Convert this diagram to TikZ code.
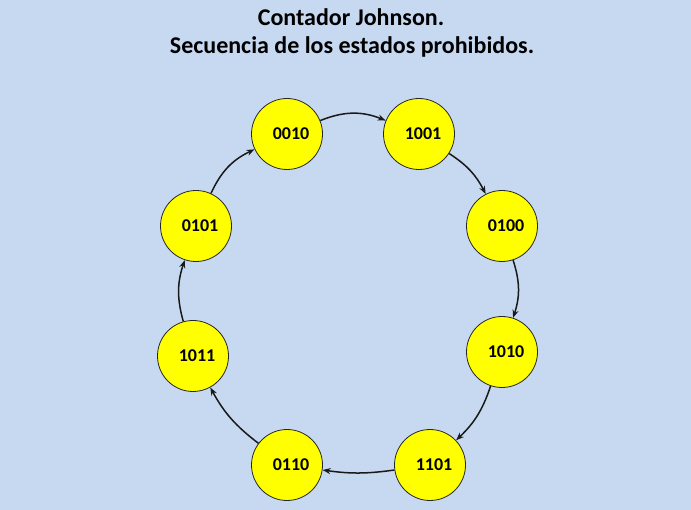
\documentclass[tikz,border=0pt]{standalone}
\usepackage{fontspec}
\setmainfont{Carlito}
\usetikzlibrary{arrows.meta}
\definecolor{bgblue}{RGB}{198,217,241}
\definecolor{stateyellow}{RGB}{255,255,0}
\tikzset{
  state/.style={circle,draw=black!85,line width=0.8pt,fill=stateyellow,
    minimum size=71pt,inner sep=0pt,font=\fontsize{18}{21}\selectfont\bfseries},
  flow/.style={line width=1.5pt,draw=black!90,-{Stealth[length=8pt,width=6pt]}},
  titletext/.style={anchor=base,inner sep=0pt,font=\fontsize{24}{29}\selectfont\bfseries}
}
\newcommand{\stl}[1]{\hspace*{8pt}\raisebox{-1.5pt}{#1}}
\begin{document}
\begin{tikzpicture}[x=1pt,y=-1pt]
  \fill[bgblue] (0,0) rectangle (691,510);
  \useasboundingbox (0,0) rectangle (691,510);
  \node[titletext] (t1) at (351,26) {Contador Johnson.};
  \node[titletext] (t2) at (352,54) {Secuencia de los estados prohibidos.};
  \node[state] (s0010) at (287,134) {\stl{0010}};
  \node[state] (s1001) at (419,134) {\stl{1001}};
  \node[state] (s0100) at (502,226) {\stl{0100}};
  \node[state] (s1010) at (502,352) {\stl{1010}};
  \node[state] (s1101) at (430,465) {\stl{1101}};
  \node[state] (s0110) at (287,465) {\stl{0110}};
  \node[state] (s1011) at (193,356) {\stl{1011}};
  \node[state] (s0101) at (196,226) {\stl{0101}};
  \draw[flow] (s0010) to[bend left=22] (s1001);
  \draw[flow] (s1001) to[bend left=15] (s0100);
  \draw[flow] (s0100) to[bend left=18] (s1010);
  \draw[flow] (s1010) to[bend left=14] (s1101);
  \draw[flow] (s1101) to[bend left=8] (s0110);
  \draw[flow] (s0110) to[bend left=12] (s1011);
  \draw[flow] (s1011) to[bend left=17] (s0101);
  \draw[flow] (s0101) to[bend left=20] (s0010);
\end{tikzpicture}
\end{document}
